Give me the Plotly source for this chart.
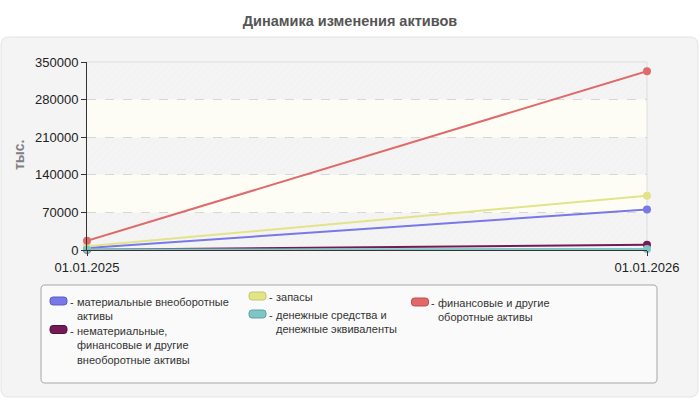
import plotly.graph_objects as go

# ============================================================
# DATA
# ============================================================
dates = ["01.01.2025", "01.01.2026"]
names = [
    "материальные внеоборотные<br>активы",
    "нематериальные,<br>финансовые и другие<br>внеоборотные активы",
    "запасы",
    "денежные средства и<br>денежные эквиваленты",
    "финансовые и другие<br>оборотные активы",
]
colors = ["#7878e8", "#741a56", "#e3e38a", "#80c4c4", "#e06a6a"]
edge_colors = ["#5c5cc4", "#561040", "#c4c46a", "#5fa3a3", "#c04c4c"]

tangible = [3500, 75500]
intangible = [500, 10000]
stocks = [7000, 101000]
cash = [800, 2000]
financial = [17000, 333000]
series = [tangible, intangible, stocks, cash, financial]

y_max = 350000
y_step = 70000

# ============================================================
# GEOMETRY (pixels -> paper)
# ============================================================
W, H = 700, 400
L, R, T, B = 87, 647, 62, 250
PW, PH = R - L, B - T


def px(x):
    return (x - L) / PW


def py(y):
    return (B - y) / PH


def rounded(x0, y0, x1, y1, r):
    pts = [
        ("M", [(x0 + r, y0)]), ("L", [(x1 - r, y0)]), ("Q", [(x1, y0), (x1, y0 + r)]),
        ("L", [(x1, y1 - r)]), ("Q", [(x1, y1), (x1 - r, y1)]),
        ("L", [(x0 + r, y1)]), ("Q", [(x0, y1), (x0, y1 - r)]),
        ("L", [(x0, y0 + r)]), ("Q", [(x0, y0), (x0 + r, y0)]),
    ]
    s = ""
    for cmd, coords in pts:
        s += cmd + " ".join(f"{px(a):.5f},{py(b):.5f}" for a, b in coords) + " "
    return s + "Z"


FONT = "Liberation Sans, Arial, sans-serif"

fig = go.Figure()

# hatched background bands (every other band between gridlines)
band_base = list(range(0, y_max, 2 * y_step))
fig.add_trace(go.Bar(
    x=[0.5] * len(band_base), y=[y_step] * len(band_base), base=band_base,
    width=1, hoverinfo="skip", showlegend=False,
    marker=dict(color="rgba(0,0,0,0)", line=dict(width=0),
                pattern=dict(shape="/", fgcolor="#e8e8e8", size=5, solidity=0.15,
                             fillmode="overlay")),
))

for vals, name, col in zip(series, names, colors):
    fig.add_trace(go.Scatter(
        x=[0, 1], y=vals, name=name, mode="lines+markers",
        line=dict(color=col, width=2),
        marker=dict(color=col, size=8),
        cliponaxis=False, showlegend=False,
    ))

shapes = []
# outer container and legend box
shapes.append(dict(type="path", xref="paper", yref="paper", layer="below",
                   path=rounded(1, 37, 698, 397, 8),
                   fillcolor="#f4f4f4", line=dict(color="#e4e4e4", width=1)))
shapes.append(dict(type="path", xref="paper", yref="paper", layer="below",
                   path=rounded(41, 285, 657, 383, 4),
                   fillcolor="#fafafa", line=dict(color="#a6a6a6", width=1)))
# plain bands
for b0 in range(y_step, y_max, 2 * y_step):
    shapes.append(dict(type="rect", xref="paper", yref="y", layer="below",
                       x0=0, x1=1, y0=b0, y1=b0 + y_step,
                       fillcolor="#fdfdf6", line=dict(width=0)))
# top / right border
shapes.append(dict(type="path", xref="paper", yref="paper", layer="below",
                   path="M0,1 L1,1 L1,0", line=dict(color="#dddddd", width=1)))

annotations = []
# legend (column layout like the original)
legend_pos = [(50, 301), (50, 329.5), (249, 296), (249, 314), (411.5, 302)]
for (sx, sy), name, col, ecol in zip(legend_pos, names, colors, edge_colors):
    shapes.append(dict(type="path", xref="paper", yref="paper", layer="above",
                       path=rounded(sx, sy - 4, sx + 17, sy + 4, 3),
                       fillcolor=col, line=dict(color=ecol, width=1)))
    annotations.append(dict(x=px(sx + 17.5), y=py(sy + 1), xref="paper", yref="paper",
                            text="-", showarrow=False, xanchor="left", yanchor="middle",
                            font=dict(family=FONT, size=11, color="#333333")))
    annotations.append(dict(x=px(sx + 24.5), y=py(sy - 7), xref="paper", yref="paper",
                            text=name, showarrow=False, xanchor="left", yanchor="top",
                            align="left",
                            font=dict(family=FONT, size=11, color="#333333")))

# y axis title
annotations.append(dict(x=px(19), y=py(155), xref="paper", yref="paper",
                        text="<b>тыс.</b>", showarrow=False, textangle=-90,
                        xanchor="center", yanchor="middle",
                        font=dict(family=FONT, size=14, color="#808080")))

fig.update_layout(
    width=W, height=H,
    margin=dict(l=L, r=W - R, t=T, b=H - B),
    paper_bgcolor="#ffffff", plot_bgcolor="#fafafa",
    barmode="overlay", showlegend=False,
    title=dict(text="<b>Динамика изменения активов</b>", x=0.5, xanchor="center",
               y=1 - 20.5 / H, yanchor="middle",
               font=dict(family=FONT, size=14.5, color="#555555")),
    font=dict(family=FONT, size=13, color="#222222"),
    shapes=shapes, annotations=annotations,
)
fig.update_xaxes(
    range=[0, 1], tickvals=[0, 1], ticktext=dates, showgrid=False, zeroline=False,
    showline=True, linecolor="#333333", linewidth=1,
    ticks="outside", ticklen=5, tickcolor="#333333",
    tickfont=dict(family=FONT, size=13, color="#222222"),
)
fig.update_yaxes(
    range=[0, y_max], tick0=0, dtick=y_step, tickformat="d",
    showgrid=True, gridcolor="#d6d6d6", griddash="dash", zeroline=False,
    showline=True, linecolor="#333333", linewidth=1,
    ticks="outside", ticklen=5, tickcolor="#333333",
    tickfont=dict(family=FONT, size=13, color="#222222"),
)

fig.write_html("out.html", config={"displayModeBar": False},
               post_script="document.body.style.margin='0';")
